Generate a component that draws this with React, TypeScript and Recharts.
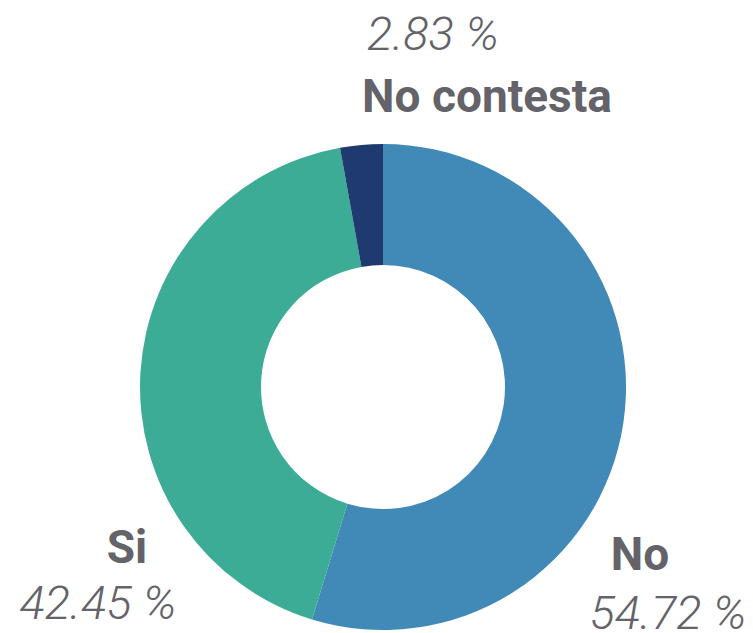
import React from 'react';
import { PieChart, Pie, Cell } from 'recharts';

const categories = ['No', 'Si', 'No contesta'];
const values = [54.72, 42.45, 2.83];
const pctLabels = ['54.72 %', '42.45 %', '2.83 %'];
const colors = ['#4189B7', '#3DAC97', '#1F3A6E'];

// label anchor offsets relative to pie centre: [nameDx, nameDy, pctDx, pctDy]
const labelOffsets = [
  [257, 183, 285, 242],
  [-256, 176, -285, 232],
  [104, -275, 50, -337],
];

const data = categories.map((c, i) => ({ name: c, value: values[i] }));

const renderLabel = (props: any) => {
  const { cx, cy, index } = props;
  const o = labelOffsets[index];
  return (
    <g key={'lbl' + index}>
      <text x={cx + o[0]} y={cy + o[1]} textAnchor="middle" fill="#636369"
        style={{ fontFamily: 'Roboto', fontWeight: 700, fontSize: 46 }}>
        {categories[index]}
      </text>
      <text x={cx + o[2]} y={cy + o[3]} textAnchor="middle" fill="#636369"
        style={{ fontFamily: 'Roboto', fontWeight: 300, fontStyle: 'italic', fontSize: 47 }}>
        {pctLabels[index]}
      </text>
    </g>
  );
};

export default function App() {
  return (
    <div style={{ position: 'absolute', left: 0, top: 0, background: '#fff' }}>
      <PieChart width={753} height={633} margin={{ top: 0, right: 0, bottom: 0, left: 0 }}>
        <Pie
          data={data}
          dataKey="value"
          nameKey="name"
          cx={383}
          cy={387}
          innerRadius={122}
          outerRadius={243}
          startAngle={90}
          endAngle={-270}
          stroke="none"
          label={renderLabel}
          labelLine={false}
          isAnimationActive={false}
        >
          {data.map((d, i) => (
            <Cell key={d.name} fill={colors[i]} />
          ))}
        </Pie>
      </PieChart>
    </div>
  );
}
